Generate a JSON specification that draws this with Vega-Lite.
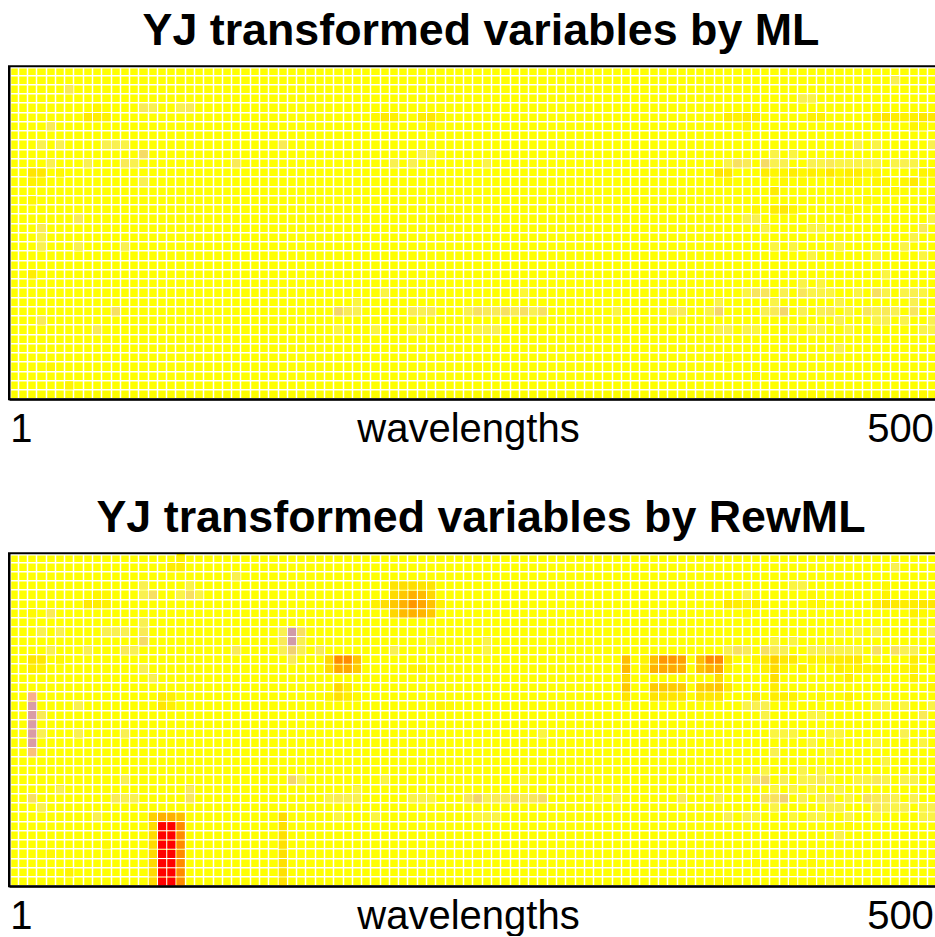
{"$schema":"https://vega.github.io/schema/vega-lite/v6.json","autosize":{"type":"pad"},"padding":{"left":8,"top":8.3,"right":0,"bottom":0},"background":"white","bounds":"flush","spacing":154,"config":{"axis":{"grid":true,"gridColor":"white","gridWidth":1.5,"domain":true,"domainColor":"black","domainWidth":2,"zindex":1,"ticks":false,"tickBand":"extent"},"title":{"font":"Liberation Sans","fontWeight":"bold","fontSize":44.8,"color":"black","anchor":"middle","dx":8,"offset":10.5,"baseline":"alphabetic"}},
"datasets":{"ml":[
{"r":2,"c":6,"v":-0.2},{"r":4,"c":9,"v":0.05},{"r":4,"c":14,"v":-0.2},{"r":4,"c":15,"v":-0.15},{"r":4,"c":18,"v":-0.15},{"r":4,"c":19,"v":-0.2},{"r":5,"c":8,"v":0.12},{"r":5,"c":9,"v":0.1},{"r":5,"c":10,"v":0.08},{"r":6,"c":4,"v":-0.2},{"r":8,"c":3,"v":-0.15},{"r":8,"c":5,"v":-0.15},{"r":8,"c":10,"v":-0.15},{"r":8,"c":11,"v":-0.15},{"r":8,"c":12,"v":-0.12},{"r":8,"c":29,"v":-0.2},{"r":9,"c":14,"v":-0.35},{"r":10,"c":4,"v":-0.15},{"r":10,"c":8,"v":-0.15},{"r":10,"c":12,"v":-0.2},{"r":10,"c":13,"v":-0.15},{"r":10,"c":24,"v":-0.2},{"r":11,"c":2,"v":0.15},{"r":11,"c":3,"v":0.13},{"r":11,"c":5,"v":0.04},{"r":12,"c":2,"v":0.08},{"r":12,"c":3,"v":0.05},{"r":12,"c":14,"v":-0.15},{"r":14,"c":2,"v":0.04},{"r":16,"c":7,"v":-0.2},{"r":17,"c":3,"v":-0.2},{"r":18,"c":3,"v":-0.12},{"r":19,"c":3,"v":-0.15},{"r":19,"c":7,"v":-0.15},{"r":19,"c":12,"v":-0.15},{"r":22,"c":2,"v":0.1},{"r":26,"c":11,"v":-0.3},{"r":27,"c":3,"v":-0.2},{"r":28,"c":9,"v":-0.2},{"r":32,"c":4,"v":0.04},{"r":34,"c":6,"v":0.06},
{"r":5,"c":39,"v":0.04},{"r":5,"c":40,"v":0.12},{"r":5,"c":41,"v":0.08},{"r":5,"c":44,"v":0.1},{"r":5,"c":45,"v":0.13},{"r":5,"c":46,"v":0.04},{"r":6,"c":45,"v":0.06},{"r":9,"c":44,"v":-0.15},{"r":9,"c":45,"v":-0.12},{"r":10,"c":41,"v":-0.15},{"r":10,"c":43,"v":-0.15},{"r":10,"c":51,"v":-0.12},{"r":16,"c":46,"v":0.06},{"r":16,"c":47,"v":0.03},{"r":24,"c":40,"v":-0.1},{"r":24,"c":55,"v":-0.07},{"r":25,"c":37,"v":-0.1},{"r":26,"c":35,"v":-0.4},{"r":26,"c":36,"v":-0.2},{"r":26,"c":37,"v":-0.15},{"r":26,"c":43,"v":-0.2},{"r":26,"c":44,"v":-0.15},{"r":26,"c":45,"v":-0.2},{"r":26,"c":49,"v":-0.15},{"r":26,"c":50,"v":-0.3},{"r":26,"c":51,"v":-0.2},{"r":26,"c":52,"v":-0.2},{"r":26,"c":53,"v":-0.3},{"r":26,"c":54,"v":-0.2},{"r":26,"c":55,"v":-0.3},{"r":26,"c":56,"v":-0.15},{"r":26,"c":57,"v":-0.3},{"r":26,"c":65,"v":-0.1},{"r":28,"c":35,"v":-0.1},{"r":28,"c":39,"v":-0.1},{"r":28,"c":43,"v":-0.12},{"r":28,"c":44,"v":-0.1},{"r":28,"c":50,"v":-0.1},{"r":28,"c":51,"v":-0.12},{"r":28,"c":52,"v":-0.15},{"r":32,"c":50,"v":0.03},
{"r":1,"c":95,"v":-0.15},{"r":3,"c":85,"v":-0.15},{"r":3,"c":86,"v":-0.12},{"r":5,"c":77,"v":0.1},{"r":5,"c":78,"v":0.08},{"r":5,"c":79,"v":0.1},{"r":5,"c":80,"v":0.1},{"r":5,"c":86,"v":0.08},{"r":5,"c":87,"v":0.08},{"r":5,"c":93,"v":0.1},{"r":5,"c":94,"v":0.15},{"r":5,"c":95,"v":0.1},{"r":5,"c":96,"v":0.08},{"r":5,"c":97,"v":0.08},{"r":5,"c":98,"v":0.13},{"r":5,"c":99,"v":0.13},{"r":6,"c":79,"v":0.04},{"r":6,"c":97,"v":0.05},{"r":6,"c":98,"v":0.02},{"r":8,"c":91,"v":-0.15},{"r":8,"c":93,"v":-0.12},{"r":8,"c":99,"v":-0.15},{"r":9,"c":82,"v":-0.12},{"r":9,"c":84,"v":-0.1},{"r":10,"c":77,"v":-0.12},{"r":10,"c":78,"v":-0.3},{"r":10,"c":79,"v":-0.2},{"r":10,"c":81,"v":-0.35},{"r":10,"c":82,"v":-0.15},{"r":10,"c":83,"v":-0.15},{"r":10,"c":86,"v":-0.15},{"r":10,"c":87,"v":-0.12},{"r":10,"c":88,"v":-0.2},{"r":10,"c":89,"v":-0.12},{"r":10,"c":90,"v":-0.12},{"r":10,"c":91,"v":-0.12},{"r":10,"c":92,"v":-0.12},{"r":10,"c":93,"v":-0.12},{"r":10,"c":95,"v":-0.12},{"r":10,"c":96,"v":-0.15},{"r":10,"c":97,"v":-0.12},{"r":11,"c":76,"v":0.15},{"r":11,"c":77,"v":0.13},{"r":11,"c":81,"v":0.1},{"r":11,"c":82,"v":0.05},{"r":11,"c":83,"v":0.05},{"r":11,"c":84,"v":0.1},{"r":11,"c":85,"v":0.05},{"r":11,"c":86,"v":0.1},{"r":11,"c":87,"v":0.05},{"r":11,"c":88,"v":0.13},{"r":11,"c":89,"v":0.05},{"r":11,"c":90,"v":0.1},{"r":11,"c":91,"v":0.1},{"r":11,"c":92,"v":0.04},{"r":11,"c":93,"v":0.05},{"r":11,"c":98,"v":0.06},{"r":11,"c":99,"v":0.05},{"r":12,"c":77,"v":0.05},{"r":12,"c":83,"v":0.04},{"r":12,"c":85,"v":0.03},{"r":12,"c":89,"v":0.05},{"r":12,"c":90,"v":0.05},{"r":12,"c":91,"v":0.04},{"r":12,"c":93,"v":0.05},{"r":12,"c":94,"v":0.05},{"r":12,"c":96,"v":0.05},{"r":12,"c":97,"v":0.12},{"r":13,"c":82,"v":0.1},{"r":13,"c":95,"v":0.02},{"r":14,"c":92,"v":0.03},{"r":14,"c":99,"v":0.03},{"r":15,"c":80,"v":0.05},{"r":15,"c":82,"v":0.1},{"r":15,"c":83,"v":0.12},{"r":15,"c":84,"v":0.05},{"r":15,"c":90,"v":0.04},{"r":16,"c":79,"v":-0.12},{"r":16,"c":80,"v":-0.15},{"r":16,"c":99,"v":-0.12},{"r":17,"c":81,"v":-0.12},{"r":17,"c":86,"v":-0.1},{"r":17,"c":87,"v":-0.1},{"r":17,"c":98,"v":-0.2},{"r":18,"c":97,"v":-0.12},{"r":19,"c":82,"v":-0.1},{"r":19,"c":84,"v":-0.1},{"r":19,"c":89,"v":-0.1},{"r":19,"c":96,"v":-0.12},{"r":20,"c":86,"v":-0.1},{"r":20,"c":93,"v":-0.1},{"r":20,"c":98,"v":-0.1},{"r":22,"c":94,"v":-0.1},{"r":23,"c":85,"v":-0.12},{"r":23,"c":87,"v":-0.1},{"r":24,"c":79,"v":-0.1},{"r":24,"c":80,"v":-0.25},{"r":24,"c":81,"v":-0.25},{"r":24,"c":83,"v":-0.15},{"r":24,"c":85,"v":-0.25},{"r":24,"c":86,"v":-0.12},{"r":24,"c":87,"v":-0.12},{"r":24,"c":88,"v":-0.1},{"r":24,"c":91,"v":-0.1},{"r":24,"c":93,"v":-0.3},{"r":24,"c":94,"v":-0.12},{"r":24,"c":96,"v":-0.12},{"r":24,"c":97,"v":-0.15},{"r":24,"c":98,"v":-0.1},{"r":25,"c":76,"v":-0.12},{"r":25,"c":82,"v":-0.12},{"r":25,"c":89,"v":-0.12},{"r":25,"c":97,"v":-0.15},{"r":26,"c":71,"v":-0.2},{"r":26,"c":72,"v":-0.2},{"r":26,"c":75,"v":-0.12},{"r":26,"c":76,"v":-0.4},{"r":26,"c":81,"v":-0.15},{"r":26,"c":82,"v":-0.2},{"r":26,"c":83,"v":-0.4},{"r":26,"c":85,"v":-0.15},{"r":26,"c":87,"v":-0.15},{"r":26,"c":88,"v":-0.2},{"r":26,"c":90,"v":-0.12},{"r":26,"c":92,"v":-0.25},{"r":26,"c":93,"v":-0.15},{"r":26,"c":94,"v":-0.2},{"r":26,"c":95,"v":-0.15},{"r":26,"c":97,"v":-0.25},{"r":27,"c":89,"v":-0.15},{"r":27,"c":93,"v":-0.12},{"r":27,"c":94,"v":-0.15},{"r":27,"c":96,"v":-0.12},{"r":27,"c":99,"v":-0.15},{"r":28,"c":76,"v":-0.12},{"r":28,"c":77,"v":-0.15},{"r":28,"c":79,"v":-0.12},{"r":28,"c":80,"v":-0.08},{"r":28,"c":84,"v":-0.07},{"r":28,"c":86,"v":-0.1},{"r":28,"c":87,"v":-0.1},{"r":28,"c":90,"v":-0.1},{"r":28,"c":98,"v":-0.12},{"r":28,"c":99,"v":-0.12},{"r":30,"c":89,"v":-0.15},{"r":31,"c":77,"v":0.02},{"r":33,"c":80,"v":0.03},{"r":35,"c":86,"v":0.03},{"r":35,"c":98,"v":0.03}
],"rew":[
{"r":0,"c":18,"v":0.08},{"r":1,"c":17,"v":0.1},{"r":1,"c":18,"v":0.1},{"r":2,"c":24,"v":-0.15},{"r":3,"c":14,"v":-0.15},{"r":3,"c":19,"v":-0.12},{"r":4,"c":9,"v":0.05},{"r":4,"c":10,"v":0.04},{"r":4,"c":14,"v":-0.15},{"r":4,"c":15,"v":-0.3},{"r":4,"c":18,"v":-0.12},{"r":4,"c":19,"v":-0.3},{"r":4,"c":20,"v":-0.12},{"r":5,"c":8,"v":0.12},{"r":5,"c":9,"v":0.1},{"r":5,"c":10,"v":0.08},{"r":6,"c":2,"v":0.03},{"r":6,"c":4,"v":-0.2},{"r":7,"c":14,"v":-0.15},{"r":8,"c":3,"v":-0.15},{"r":8,"c":5,"v":-0.15},{"r":8,"c":10,"v":-0.15},{"r":8,"c":11,"v":-0.15},{"r":8,"c":12,"v":-0.15},{"r":8,"c":14,"v":-0.2},{"r":8,"c":29,"v":-0.15},{"r":8,"c":30,"v":-1},{"r":8,"c":31,"v":-0.3},{"r":9,"c":14,"v":-0.35},{"r":9,"c":29,"v":-0.2},{"r":9,"c":30,"v":-1},{"r":9,"c":31,"v":-0.15},{"r":10,"c":4,"v":-0.15},{"r":10,"c":8,"v":-0.15},{"r":10,"c":12,"v":-0.2},{"r":10,"c":13,"v":-0.15},{"r":10,"c":24,"v":-0.2},{"r":10,"c":29,"v":-0.15},{"r":10,"c":30,"v":-0.45},{"r":10,"c":31,"v":-0.15},{"r":11,"c":2,"v":0.15},{"r":11,"c":3,"v":0.13},{"r":11,"c":5,"v":0.04},{"r":11,"c":30,"v":-0.2},{"r":12,"c":2,"v":0.1},{"r":12,"c":3,"v":0.07},{"r":12,"c":14,"v":-0.15},{"r":13,"c":15,"v":-0.15},{"r":15,"c":2,"v":-0.7},{"r":15,"c":16,"v":0.1},{"r":15,"c":17,"v":0.08},{"r":16,"c":2,"v":-0.95},{"r":16,"c":7,"v":-0.15},{"r":16,"c":16,"v":0.14},{"r":16,"c":17,"v":0.08},{"r":17,"c":2,"v":-0.95},{"r":17,"c":3,"v":-0.2},{"r":18,"c":2,"v":-0.95},{"r":19,"c":2,"v":-0.95},{"r":19,"c":3,"v":-0.15},{"r":19,"c":7,"v":-0.15},{"r":19,"c":12,"v":-0.15},{"r":20,"c":2,"v":-0.95},{"r":21,"c":2,"v":-0.55},{"r":24,"c":12,"v":-0.15},{"r":24,"c":30,"v":-0.4},{"r":24,"c":31,"v":-0.15},{"r":25,"c":5,"v":-0.15},{"r":25,"c":19,"v":-0.2},{"r":26,"c":2,"v":-0.3},{"r":26,"c":11,"v":-0.2},{"r":26,"c":12,"v":-0.15},{"r":26,"c":13,"v":-0.15},{"r":26,"c":19,"v":-0.25},{"r":27,"c":3,"v":-0.15},{"r":28,"c":9,"v":-0.15},{"r":28,"c":15,"v":0.25},{"r":28,"c":16,"v":0.42},{"r":28,"c":17,"v":0.42},{"r":28,"c":18,"v":0.35},{"r":28,"c":29,"v":0.2},
{"r":29,"c":15,"v":0.2},{"r":29,"c":16,"v":1},{"r":29,"c":17,"v":1},{"r":29,"c":18,"v":0.6},{"r":29,"c":29,"v":0.17},{"r":30,"c":15,"v":0.2},{"r":30,"c":16,"v":1},{"r":30,"c":17,"v":1},{"r":30,"c":18,"v":0.6},{"r":30,"c":29,"v":0.17},{"r":31,"c":10,"v":0.03},{"r":31,"c":15,"v":0.2},{"r":31,"c":16,"v":1},{"r":31,"c":17,"v":1},{"r":31,"c":18,"v":0.6},{"r":31,"c":29,"v":0.17},{"r":32,"c":4,"v":0.04},{"r":32,"c":15,"v":0.2},{"r":32,"c":16,"v":1},{"r":32,"c":17,"v":1},{"r":32,"c":18,"v":0.6},{"r":32,"c":29,"v":0.17},{"r":33,"c":15,"v":0.2},{"r":33,"c":16,"v":1},{"r":33,"c":17,"v":1},{"r":33,"c":18,"v":0.6},{"r":33,"c":29,"v":0.17},{"r":34,"c":6,"v":0.06},{"r":34,"c":15,"v":0.2},{"r":34,"c":16,"v":1},{"r":34,"c":17,"v":1},{"r":34,"c":18,"v":0.6},{"r":34,"c":29,"v":0.17},{"r":35,"c":15,"v":0.2},{"r":35,"c":16,"v":1},{"r":35,"c":17,"v":1},{"r":35,"c":18,"v":0.6},{"r":35,"c":29,"v":0.17},
{"r":3,"c":41,"v":0.15},{"r":3,"c":42,"v":0.18},{"r":3,"c":43,"v":0.18},{"r":3,"c":44,"v":0.15},{"r":3,"c":45,"v":0.15},{"r":4,"c":41,"v":0.2},{"r":4,"c":42,"v":0.3},{"r":4,"c":43,"v":0.42},{"r":4,"c":44,"v":0.37},{"r":4,"c":45,"v":0.22},{"r":5,"c":39,"v":0.08},{"r":5,"c":40,"v":0.18},{"r":5,"c":41,"v":0.3},{"r":5,"c":42,"v":0.42},{"r":5,"c":43,"v":0.55},{"r":5,"c":44,"v":0.47},{"r":5,"c":45,"v":0.33},{"r":5,"c":46,"v":0.08},{"r":6,"c":41,"v":0.22},{"r":6,"c":42,"v":0.37},{"r":6,"c":43,"v":0.42},{"r":6,"c":44,"v":0.4},{"r":6,"c":45,"v":0.3},{"r":9,"c":45,"v":-0.12},{"r":9,"c":51,"v":-0.12},{"r":10,"c":33,"v":-0.2},{"r":10,"c":41,"v":-0.15},{"r":10,"c":51,"v":-0.1},{"r":11,"c":34,"v":0.22},{"r":11,"c":35,"v":0.6},{"r":11,"c":36,"v":0.6},{"r":11,"c":37,"v":0.33},{"r":12,"c":34,"v":0.2},{"r":12,"c":35,"v":0.45},{"r":12,"c":36,"v":0.45},{"r":12,"c":37,"v":0.28},{"r":12,"c":43,"v":0.05},{"r":12,"c":44,"v":0.07},{"r":14,"c":35,"v":0.22},{"r":14,"c":36,"v":0.1},{"r":15,"c":34,"v":0.05},{"r":15,"c":35,"v":0.17},{"r":15,"c":36,"v":0.1},{"r":15,"c":37,"v":0.03},{"r":16,"c":46,"v":0.06},{"r":16,"c":47,"v":0.03},{"r":19,"c":57,"v":-0.1},{"r":24,"c":40,"v":-0.1},{"r":24,"c":55,"v":-0.07},{"r":25,"c":37,"v":-0.1},{"r":26,"c":34,"v":-0.12},{"r":26,"c":35,"v":-0.2},{"r":26,"c":36,"v":-0.15},{"r":26,"c":37,"v":-0.15},{"r":26,"c":43,"v":-0.12},{"r":26,"c":44,"v":-0.12},{"r":26,"c":45,"v":-0.1},{"r":26,"c":49,"v":-0.25},{"r":26,"c":50,"v":-0.45},{"r":26,"c":51,"v":-0.15},{"r":26,"c":52,"v":-0.2},{"r":26,"c":53,"v":-0.2},{"r":26,"c":54,"v":-0.35},{"r":26,"c":55,"v":-0.2},{"r":26,"c":56,"v":-0.25},{"r":26,"c":57,"v":-0.35},{"r":26,"c":63,"v":-0.07},{"r":26,"c":65,"v":-0.12},{"r":28,"c":35,"v":-0.1},{"r":28,"c":39,"v":-0.1},{"r":28,"c":50,"v":-0.08},{"r":28,"c":51,"v":-0.1},{"r":28,"c":52,"v":-0.12},{"r":32,"c":50,"v":0.03},
{"r":1,"c":95,"v":-0.15},{"r":3,"c":84,"v":-0.1},{"r":3,"c":85,"v":-0.12},{"r":3,"c":94,"v":0.03},{"r":4,"c":79,"v":-0.12},{"r":4,"c":86,"v":0.04},{"r":4,"c":90,"v":0.03},{"r":4,"c":94,"v":0.06},{"r":4,"c":97,"v":0.03},{"r":5,"c":77,"v":0.13},{"r":5,"c":78,"v":0.1},{"r":5,"c":79,"v":0.06},{"r":5,"c":80,"v":0.1},{"r":5,"c":86,"v":0.04},{"r":5,"c":87,"v":0.04},{"r":5,"c":93,"v":0.1},{"r":5,"c":94,"v":0.15},{"r":5,"c":95,"v":0.12},{"r":5,"c":96,"v":0.1},{"r":5,"c":97,"v":0.1},{"r":5,"c":98,"v":0.13},{"r":5,"c":99,"v":0.13},{"r":6,"c":79,"v":0.03},{"r":6,"c":97,"v":0.08},{"r":6,"c":98,"v":0.03},{"r":8,"c":89,"v":-0.12},{"r":8,"c":91,"v":-0.12},{"r":8,"c":93,"v":-0.15},{"r":8,"c":99,"v":-0.15},{"r":9,"c":82,"v":-0.1},{"r":9,"c":84,"v":-0.1},{"r":10,"c":77,"v":-0.15},{"r":10,"c":78,"v":-0.3},{"r":10,"c":79,"v":-0.2},{"r":10,"c":81,"v":-0.3},{"r":10,"c":82,"v":-0.2},{"r":10,"c":83,"v":-0.15},{"r":10,"c":86,"v":-0.15},{"r":10,"c":87,"v":-0.12},{"r":10,"c":88,"v":-0.2},{"r":10,"c":89,"v":-0.12},{"r":10,"c":90,"v":-0.12},{"r":10,"c":91,"v":-0.12},{"r":10,"c":93,"v":-0.3},{"r":10,"c":95,"v":-0.3},{"r":10,"c":96,"v":-0.15},{"r":10,"c":97,"v":-0.15},
{"r":11,"c":66,"v":0.35},{"r":11,"c":68,"v":0.06},{"r":11,"c":69,"v":0.35},{"r":11,"c":70,"v":0.55},{"r":11,"c":71,"v":0.55},{"r":11,"c":72,"v":0.5},{"r":11,"c":74,"v":0.35},{"r":11,"c":75,"v":0.6},{"r":11,"c":76,"v":0.6},{"r":11,"c":77,"v":0.15},{"r":11,"c":80,"v":0.05},{"r":11,"c":81,"v":0.12},{"r":11,"c":82,"v":0.25},{"r":11,"c":83,"v":0.12},{"r":11,"c":84,"v":0.12},{"r":11,"c":86,"v":0.07},{"r":11,"c":87,"v":0.04},{"r":11,"c":88,"v":0.1},{"r":11,"c":89,"v":0.1},{"r":11,"c":90,"v":0.12},{"r":11,"c":91,"v":0.12},{"r":11,"c":97,"v":0.1},{"r":11,"c":99,"v":0.08},{"r":12,"c":66,"v":0.37},{"r":12,"c":68,"v":0.08},{"r":12,"c":69,"v":0.4},{"r":12,"c":70,"v":0.45},{"r":12,"c":71,"v":0.45},{"r":12,"c":72,"v":0.42},{"r":12,"c":74,"v":0.32},{"r":12,"c":75,"v":0.42},{"r":12,"c":76,"v":0.45},{"r":12,"c":77,"v":0.08},{"r":12,"c":81,"v":0.08},{"r":12,"c":82,"v":0.2},{"r":12,"c":83,"v":0.05},{"r":12,"c":85,"v":0.07},{"r":12,"c":89,"v":0.1},{"r":12,"c":90,"v":0.05},{"r":12,"c":91,"v":0.07},{"r":12,"c":92,"v":0.05},{"r":12,"c":93,"v":0.06},{"r":12,"c":94,"v":0.05},{"r":12,"c":96,"v":0.05},{"r":12,"c":97,"v":0.08},{"r":13,"c":66,"v":0.2},{"r":13,"c":76,"v":0.2},{"r":13,"c":82,"v":0.18},{"r":13,"c":90,"v":0.1},{"r":13,"c":97,"v":0.08},{"r":14,"c":66,"v":0.3},{"r":14,"c":69,"v":0.28},{"r":14,"c":70,"v":0.28},{"r":14,"c":71,"v":0.28},{"r":14,"c":72,"v":0.28},{"r":14,"c":74,"v":0.25},{"r":14,"c":75,"v":0.28},{"r":14,"c":76,"v":0.32},{"r":14,"c":77,"v":0.12},{"r":14,"c":82,"v":0.1},{"r":14,"c":99,"v":0.05},{"r":15,"c":66,"v":0.15},{"r":15,"c":69,"v":0.15},{"r":15,"c":70,"v":0.15},{"r":15,"c":71,"v":0.15},{"r":15,"c":72,"v":0.13},{"r":15,"c":74,"v":0.15},{"r":15,"c":75,"v":0.13},{"r":15,"c":76,"v":0.15},{"r":15,"c":80,"v":0.1},{"r":15,"c":82,"v":0.1},{"r":15,"c":83,"v":0.08},{"r":15,"c":84,"v":0.07},{"r":15,"c":87,"v":0.04},{"r":15,"c":90,"v":0.08},
{"r":16,"c":79,"v":-0.12},{"r":16,"c":80,"v":-0.15},{"r":16,"c":81,"v":-0.15},{"r":16,"c":93,"v":-0.12},{"r":16,"c":94,"v":-0.1},{"r":16,"c":96,"v":-0.1},{"r":16,"c":99,"v":-0.12},{"r":17,"c":81,"v":-0.12},{"r":17,"c":86,"v":-0.1},{"r":17,"c":87,"v":-0.1},{"r":17,"c":98,"v":-0.2},{"r":19,"c":82,"v":-0.1},{"r":19,"c":83,"v":-0.1},{"r":19,"c":84,"v":-0.1},{"r":19,"c":88,"v":-0.1},{"r":19,"c":89,"v":-0.1},{"r":19,"c":96,"v":-0.15},{"r":20,"c":86,"v":-0.1},{"r":20,"c":93,"v":-0.1},{"r":20,"c":98,"v":-0.1},{"r":21,"c":82,"v":-0.15},{"r":21,"c":88,"v":-0.15},{"r":22,"c":94,"v":-0.1},{"r":23,"c":81,"v":-0.1},{"r":23,"c":85,"v":-0.12},{"r":23,"c":87,"v":-0.1},{"r":24,"c":79,"v":-0.1},{"r":24,"c":80,"v":-0.25},{"r":24,"c":81,"v":-0.4},{"r":24,"c":83,"v":-0.15},{"r":24,"c":85,"v":-0.12},{"r":24,"c":86,"v":-0.12},{"r":24,"c":87,"v":-0.2},{"r":24,"c":88,"v":-0.1},{"r":24,"c":91,"v":-0.1},{"r":24,"c":92,"v":-0.1},{"r":24,"c":93,"v":-0.2},{"r":24,"c":94,"v":-0.12},{"r":24,"c":96,"v":-0.12},{"r":24,"c":97,"v":-0.12},{"r":25,"c":82,"v":-0.1},{"r":25,"c":84,"v":-0.1},{"r":25,"c":86,"v":-0.1},{"r":25,"c":89,"v":-0.12},{"r":26,"c":72,"v":-0.2},{"r":26,"c":76,"v":-0.15},{"r":26,"c":81,"v":-0.3},{"r":26,"c":82,"v":-0.3},{"r":26,"c":83,"v":-0.45},{"r":26,"c":85,"v":-0.15},{"r":26,"c":87,"v":-0.15},{"r":26,"c":88,"v":-0.25},{"r":26,"c":90,"v":-0.12},{"r":26,"c":92,"v":-0.3},{"r":26,"c":93,"v":-0.2},{"r":26,"c":94,"v":-0.2},{"r":26,"c":95,"v":-0.15},{"r":26,"c":97,"v":-0.15},{"r":27,"c":82,"v":-0.12},{"r":27,"c":88,"v":-0.12},{"r":27,"c":89,"v":-0.15},{"r":27,"c":93,"v":-0.25},{"r":27,"c":94,"v":-0.15},{"r":27,"c":95,"v":-0.12},{"r":27,"c":96,"v":-0.15},{"r":27,"c":98,"v":-0.1},{"r":27,"c":99,"v":-0.15},{"r":28,"c":77,"v":-0.15},{"r":28,"c":79,"v":-0.12},{"r":28,"c":80,"v":-0.08},{"r":28,"c":84,"v":-0.07},{"r":28,"c":86,"v":-0.1},{"r":28,"c":87,"v":-0.1},{"r":28,"c":90,"v":-0.12},{"r":28,"c":93,"v":-0.05},{"r":28,"c":98,"v":-0.12},{"r":28,"c":99,"v":-0.12},{"r":29,"c":90,"v":0.02},{"r":30,"c":89,"v":-0.15},{"r":33,"c":80,"v":0.03},{"r":33,"c":86,"v":0.03},{"r":35,"c":76,"v":0.03},{"r":35,"c":77,"v":0.03},{"r":35,"c":84,"v":0.03},{"r":35,"c":86,"v":0.03},{"r":35,"c":88,"v":-0.05}
]},
"vconcat":[
{"title":"YJ transformed variables by ML","width":928,"height":333,"view":{"fill":"#FFFF00","stroke":null},"layer":[
{"data":{"name":"ml"},"mark":{"type":"rect"},"encoding":{
"x":{"field":"c","type":"ordinal","scale":{"domain":[0,1,2,3,4,5,6,7,8,9,10,11,12,13,14,15,16,17,18,19,20,21,22,23,24,25,26,27,28,29,30,31,32,33,34,35,36,37,38,39,40,41,42,43,44,45,46,47,48,49,50,51,52,53,54,55,56,57,58,59,60,61,62,63,64,65,66,67,68,69,70,71,72,73,74,75,76,77,78,79,80,81,82,83,84,85,86,87,88,89,90,91,92,93,94,95,96,97,98,99],"paddingInner":0.12,"paddingOuter":0.06},"axis":{"title":"wavelengths","titleFont":"Liberation Sans","titleFontSize":40,"titleFontWeight":"normal","titleColor":"black","titleX":459,"titleY":42,"titleBaseline":"alphabetic","labelFont":"Liberation Sans","labelFontSize":40,"labelColor":"black","labelAngle":0,"labelBaseline":"alphabetic","labelPadding":42,"labelOverlap":false,"labelFlush":false,"labelAlign":{"condition":{"test":"datum.value==0","value":"left"},"value":"right"},"labelOffset":{"condition":{"test":"datum.value==0","value":-4},"value":1},"labelExpr":"datum.value==0?'1':datum.value==99?'500':''"}},
"y":{"field":"r","type":"ordinal","scale":{"domain":[0,1,2,3,4,5,6,7,8,9,10,11,12,13,14,15,16,17,18,19,20,21,22,23,24,25,26,27,28,29,30,31,32,33,34,35],"paddingInner":0.12,"paddingOuter":0.06},"axis":{"title":null,"labels":false}},
"color":{"field":"v","type":"quantitative","legend":null,"scale":{"domain":[-1,-0.45,-0.15,0,1],"range":["#D09AA8","#F0D070","#F9F050","#FFFF00","#FF0000"]}}}},
{"data":{"values":[{"frame":1}]},"mark":{"type":"rect","fill":null,"stroke":"black","strokeWidth":2},"encoding":{}}
]},
{"title":"YJ transformed variables by RewML","width":928,"height":333,"view":{"fill":"#FFFF00","stroke":null},"layer":[
{"data":{"name":"rew"},"mark":{"type":"rect"},"encoding":{
"x":{"field":"c","type":"ordinal","scale":{"domain":[0,1,2,3,4,5,6,7,8,9,10,11,12,13,14,15,16,17,18,19,20,21,22,23,24,25,26,27,28,29,30,31,32,33,34,35,36,37,38,39,40,41,42,43,44,45,46,47,48,49,50,51,52,53,54,55,56,57,58,59,60,61,62,63,64,65,66,67,68,69,70,71,72,73,74,75,76,77,78,79,80,81,82,83,84,85,86,87,88,89,90,91,92,93,94,95,96,97,98,99],"paddingInner":0.12,"paddingOuter":0.06},"axis":{"title":"wavelengths","titleFont":"Liberation Sans","titleFontSize":40,"titleFontWeight":"normal","titleColor":"black","titleX":459,"titleY":42,"titleBaseline":"alphabetic","labelFont":"Liberation Sans","labelFontSize":40,"labelColor":"black","labelAngle":0,"labelBaseline":"alphabetic","labelPadding":42,"labelOverlap":false,"labelFlush":false,"labelAlign":{"condition":{"test":"datum.value==0","value":"left"},"value":"right"},"labelOffset":{"condition":{"test":"datum.value==0","value":-4},"value":1},"labelExpr":"datum.value==0?'1':datum.value==99?'500':''"}},
"y":{"field":"r","type":"ordinal","scale":{"domain":[0,1,2,3,4,5,6,7,8,9,10,11,12,13,14,15,16,17,18,19,20,21,22,23,24,25,26,27,28,29,30,31,32,33,34,35],"paddingInner":0.12,"paddingOuter":0.06},"axis":{"title":null,"labels":false}},
"color":{"field":"v","type":"quantitative","legend":null,"scale":{"domain":[-1,-0.45,-0.15,0,1],"range":["#D09AA8","#F0D070","#F9F050","#FFFF00","#FF0000"]}}}},
{"data":{"values":[{"frame":1}]},"mark":{"type":"rect","fill":null,"stroke":"black","strokeWidth":2},"encoding":{}}
]}
]}
